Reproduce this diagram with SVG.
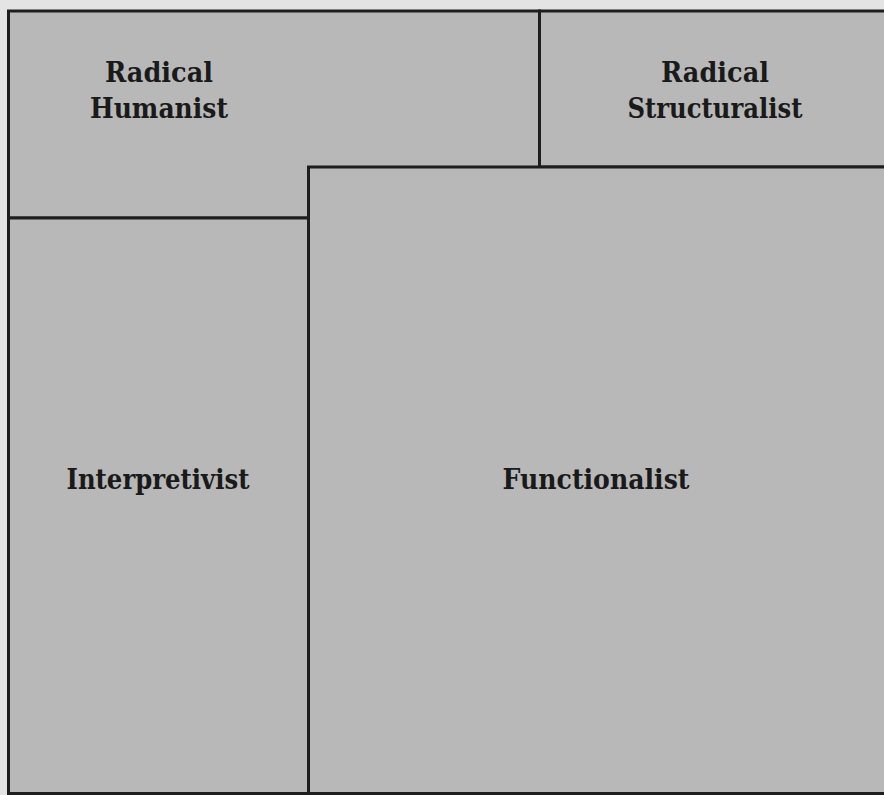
<svg xmlns="http://www.w3.org/2000/svg" width="884" height="795" viewBox="0 0 884 795">
<style>
.box{fill:#b8b8b8;stroke:#1e1e1e;stroke-width:3}
.lbl{font-family:"DejaVu Serif","Liberation Serif",serif;font-weight:bold;font-size:27px;fill:#1a1a1a;text-anchor:middle}
</style>
<rect x="0" y="0" width="884" height="795" fill="#e4e4e4"/>
<g id="radical-humanist">
<rect class="box" x="8.5" y="11" width="531" height="207"/>
<text class="lbl" x="159" y="82" textLength="108" lengthAdjust="spacingAndGlyphs">Radical</text>
<text class="lbl" x="159" y="118" textLength="138" lengthAdjust="spacingAndGlyphs">Humanist</text>
</g>
<g id="radical-structuralist">
<rect class="box" x="539.5" y="11" width="350" height="156"/>
<text class="lbl" x="715" y="82" textLength="108" lengthAdjust="spacingAndGlyphs">Radical</text>
<text class="lbl" x="715" y="118" textLength="175" lengthAdjust="spacingAndGlyphs">Structuralist</text>
</g>
<g id="interpretivist">
<rect class="box" x="8.5" y="218" width="300" height="575.5"/>
<text class="lbl" x="158" y="489" textLength="183" lengthAdjust="spacingAndGlyphs">Interpretivist</text>
</g>
<g id="functionalist">
<rect class="box" x="308.5" y="167" width="580" height="626.5"/>
<text class="lbl" x="596" y="489" textLength="187" lengthAdjust="spacingAndGlyphs">Functionalist</text>
</g>
<g id="connectors"></g>
</svg>
